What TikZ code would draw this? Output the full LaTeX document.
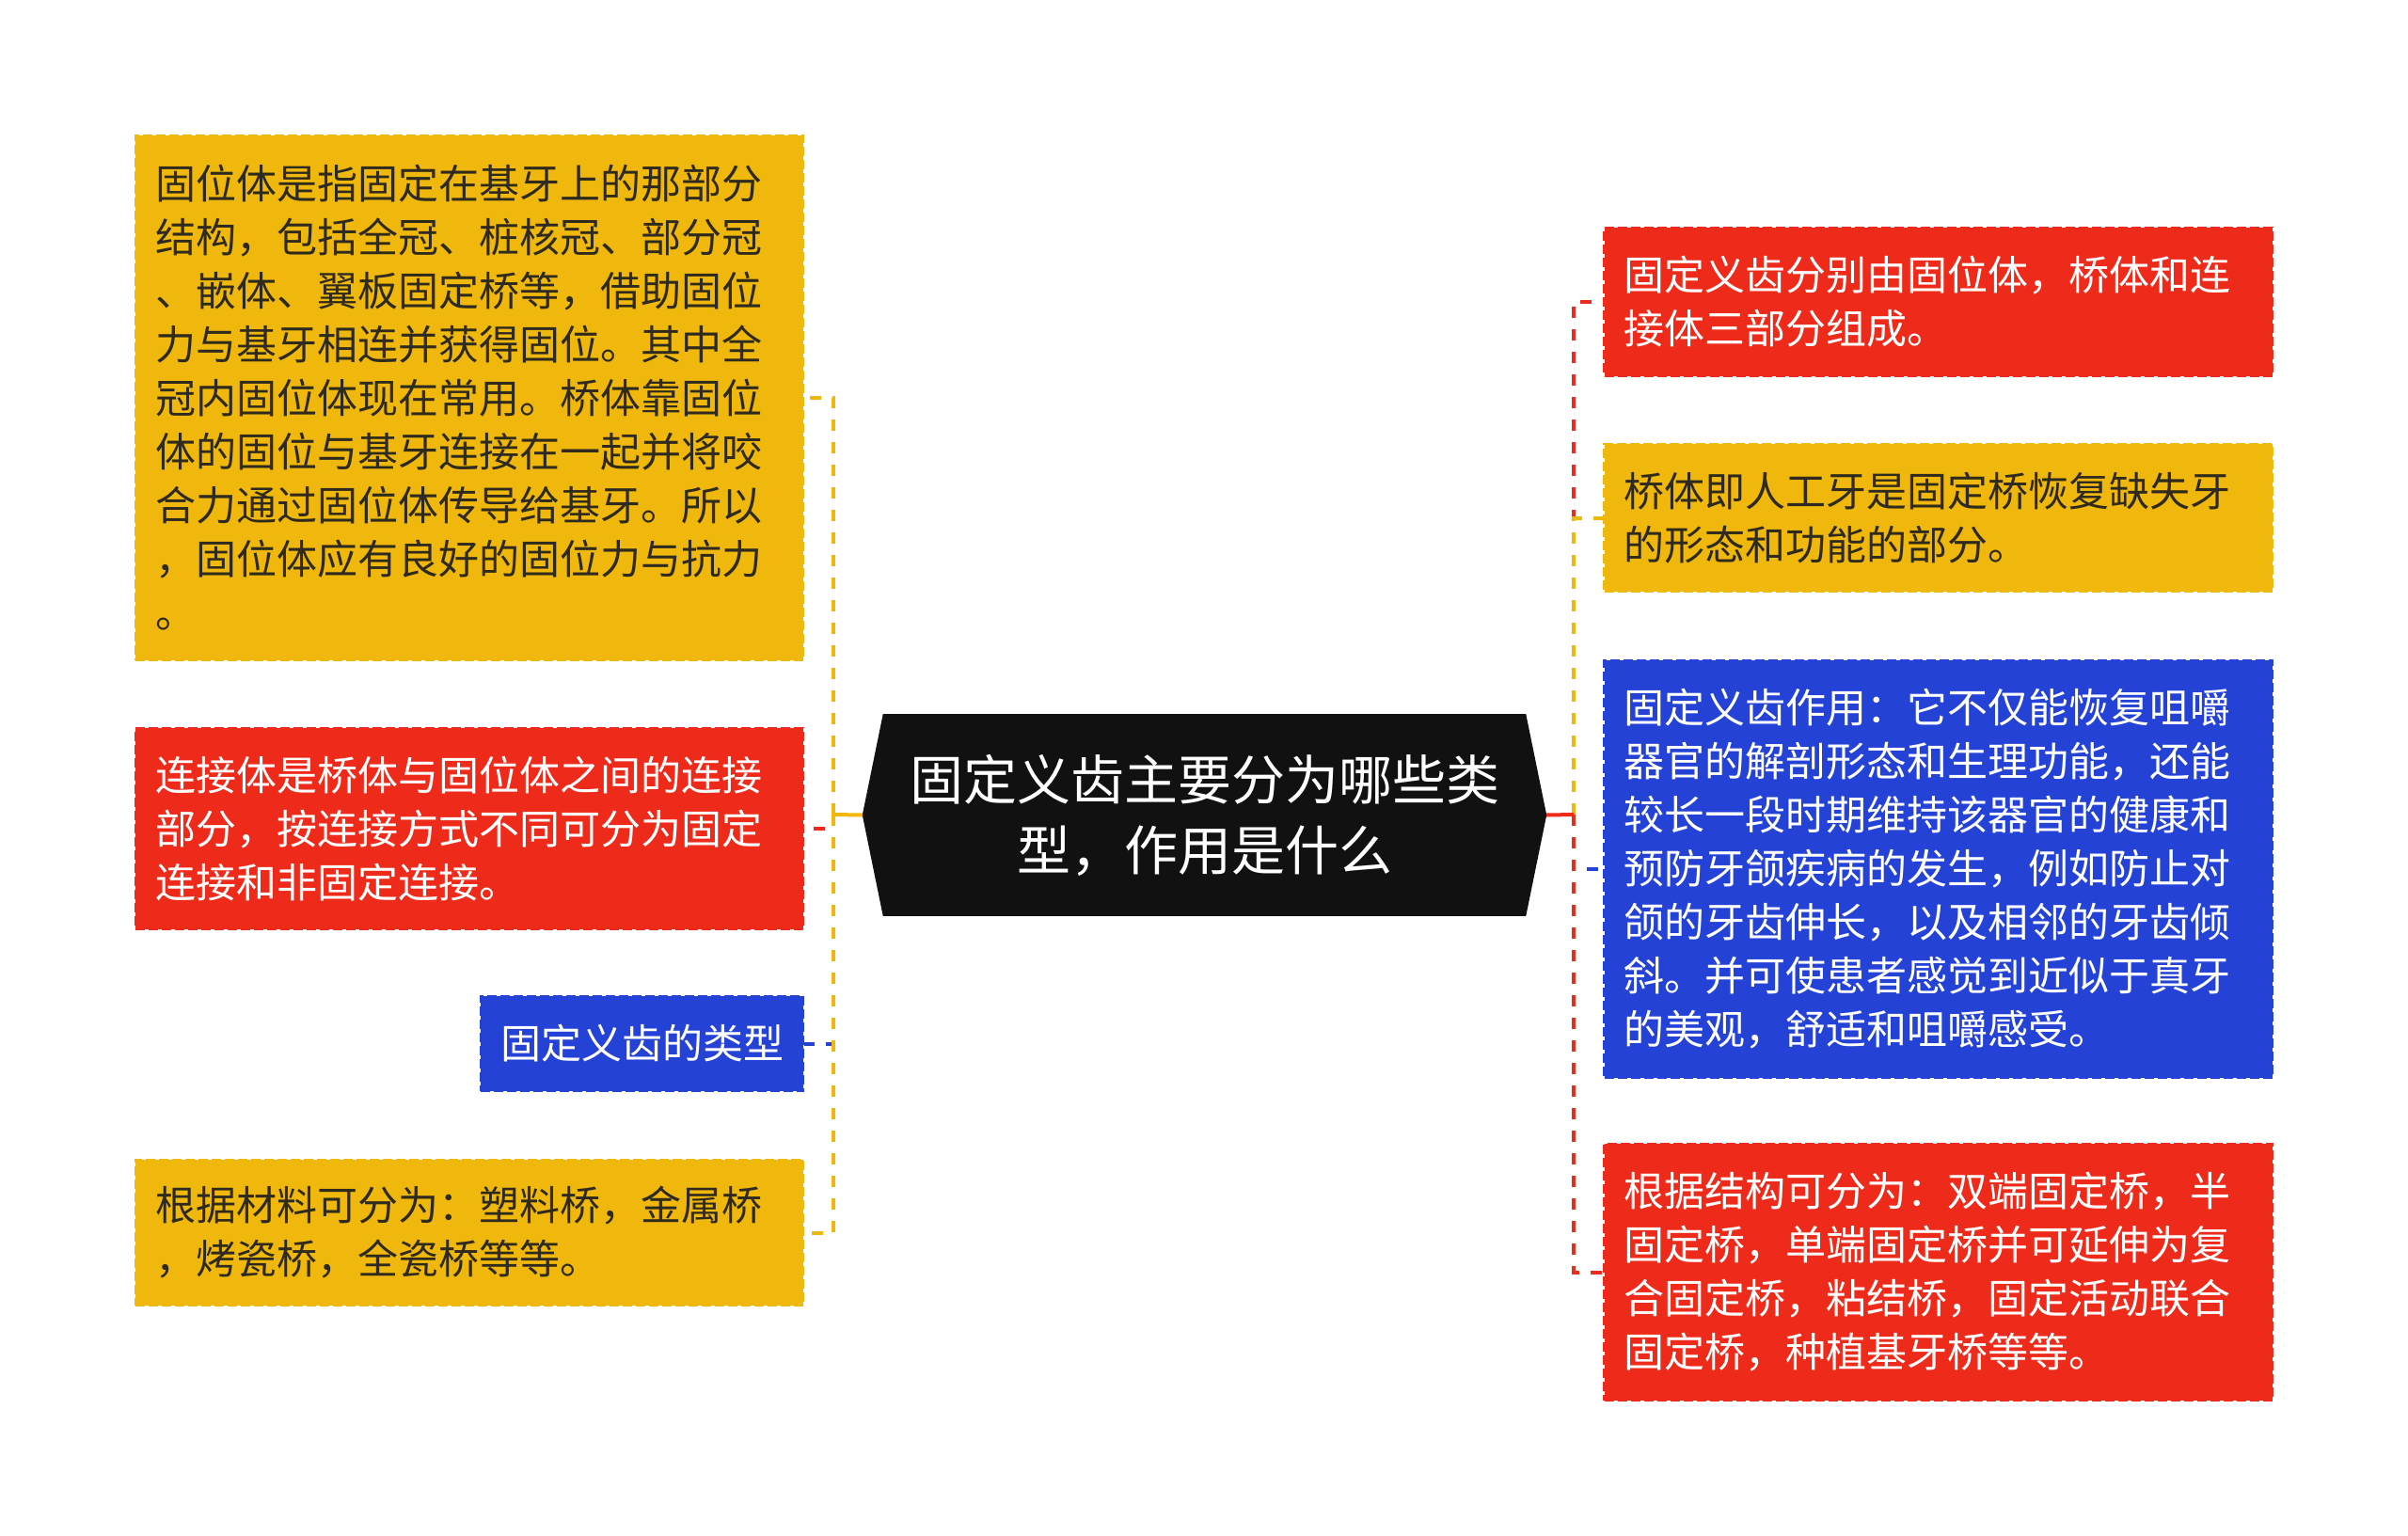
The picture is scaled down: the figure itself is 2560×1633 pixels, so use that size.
\documentclass[tikz,border=0pt]{standalone}
\usepackage{fontspec}
\newfontfamily\cjk{Noto Sans CJK SC}
\definecolor{yel}{RGB}{240,184,13}
\definecolor{rd}{RGB}{238,42,26}
\definecolor{bl}{RGB}{36,66,214}
\definecolor{blk}{RGB}{17,17,17}
\definecolor{dk}{RGB}{46,42,30}
\begin{document}
\begin{tikzpicture}[x=1pt,y=-1pt,
  box/.style={rectangle, line width=2.5pt, dash pattern=on 10pt off 4pt, inner xsep=21pt, inner ysep=0pt, align=left, font=\cjk\fontsize{43}{57}\selectfont},
  wide/.style={minimum width=710pt, text width=668pt},
  ybox/.style={box, wide, fill=yel, draw=yel, text=dk},
  rbox/.style={box, wide, fill=rd, draw=rd, text=white},
  bbox/.style={box, wide, fill=bl, draw=bl, text=white},
  conn/.style={line width=4pt, dash pattern=on 12pt off 12pt},
]
\useasboundingbox[fill=white] (0,0) rectangle (2560,1633);

% centre
\node[fill=blk, minimum width=683pt, minimum height=215pt, align=center, text=white,
      font=\cjk\fontsize{57}{75}\selectfont, inner sep=0pt] (c) at (1280.5,866.5)
  {固定义齿主要分为哪些类\\型，作用是什么};
\fill[blk] (c.north west) -- ([xshift=-22pt]c.west) -- (c.south west) -- cycle;
\fill[blk] (c.north east) -- ([xshift=22pt]c.east) -- (c.south east) -- cycle;
\coordinate (cl) at ([xshift=-22pt]c.west);
\coordinate (cr) at ([xshift=22pt]c.east);
\coordinate (jl) at (886,866);
\coordinate (jr) at (1673,866);

% left boxes
\node[ybox, minimum height=558pt] (L1) at (499,423) {固位体是指固定在基牙上的那部分\\结构，包括全冠、桩核冠、部分冠\\、嵌体、翼板固定桥等，借助固位\\力与基牙相连并获得固位。其中全\\冠内固位体现在常用。桥体靠固位\\体的固位与基牙连接在一起并将咬\\合力通过固位体传导给基牙。所以\\，固位体应有良好的固位力与抗力\\。};
\node[rbox, minimum height=214pt] (L2) at (499,881) {连接体是桥体与固位体之间的连接\\部分，按连接方式不同可分为固定\\连接和非固定连接。};
\node[box, fill=bl, draw=bl, text=white, align=center, minimum width=343pt, minimum height=101pt, inner xsep=0pt] (L3) at (682.5,1109.5) {固定义齿的类型};
\node[ybox, minimum height=155pt] (L4) at (499,1310.5) {根据材料可分为：塑料桥，金属桥\\，烤瓷桥，全瓷桥等等。};

% right boxes
\node[rbox, minimum height=158pt] (R1) at (2060.5,321) {固定义齿分别由固位体，桥体和连\\接体三部分组成。};
\node[ybox, minimum height=157pt] (R2) at (2060.5,550.5) {桥体即人工牙是固定桥恢复缺失牙\\的形态和功能的部分。};
\node[bbox, minimum height=444pt] (R3) at (2060.5,924) {固定义齿作用：它不仅能恢复咀嚼\\器官的解剖形态和生理功能，还能\\较长一段时期维持该器官的健康和\\预防牙颌疾病的发生，例如防止对\\颌的牙齿伸长，以及相邻的牙齿倾\\斜。并可使患者感觉到近似于真牙\\的美观，舒适和咀嚼感受。};
\node[rbox, minimum height=273pt] (R4) at (2060.5,1352.5) {根据结构可分为：双端固定桥，半\\固定桥，单端固定桥并可延伸为复\\合固定桥，粘结桥，固定活动联合\\固定桥，种植基牙桥等等。};

% connectors left
\draw[conn, yel] (jl) |- (L1.east);
\draw[conn, rd]  (jl) |- (L2.east);
\draw[conn, bl]  (jl) |- (L3.east);
\draw[conn, yel] (jl) |- (L4.east);
\draw[yel, line width=4pt] (cl) -- (jl);

% connectors right
\draw[conn, rd]  (jr) |- (R1.west);
\draw[conn, yel] (jr) |- (R2.west);
\draw[conn, bl]  (jr) |- (R3.west);
\draw[conn, rd]  (jr) |- (R4.west);
\draw[rd, line width=4pt] (cr) -- (jr);
\end{tikzpicture}
\end{document}
